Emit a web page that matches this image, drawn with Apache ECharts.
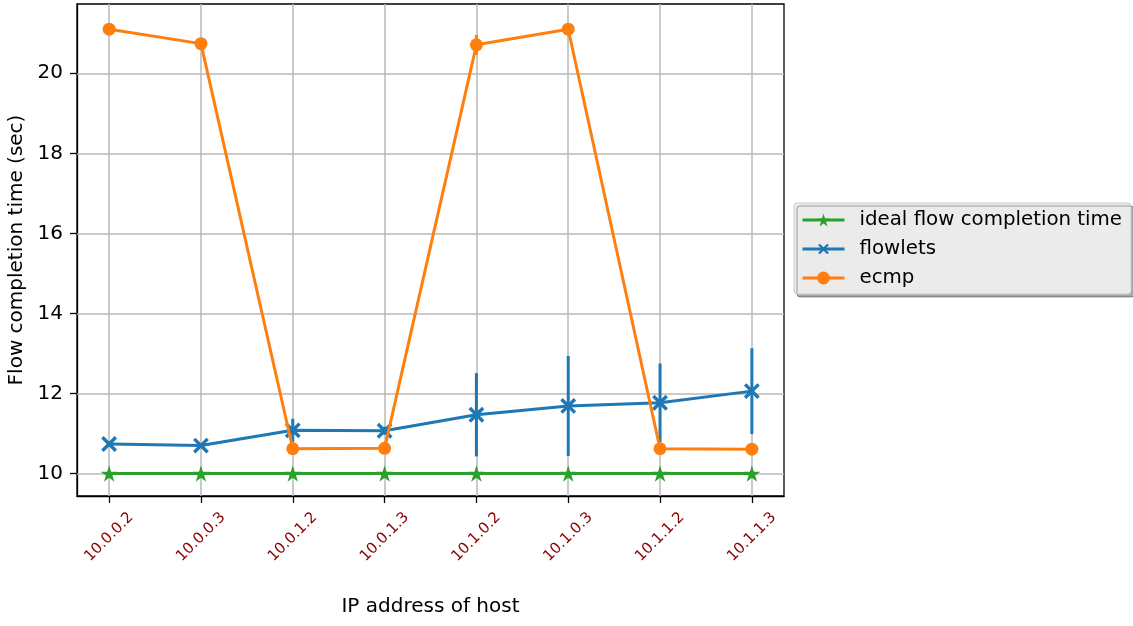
<!DOCTYPE html>
<html>
<head>
<meta charset="utf-8">
<script src="https://cdn.jsdelivr.net/npm/echarts@6/dist/echarts.min.js"></script>
<style>
    html, body { margin: 0; padding: 0; background: #fff; }
    #flow_chart { width: 1133px; height: 626px; }
</style>
</head>
<body>
<div id="flow_chart"></div>
<script>
// host addresses on the x axis
var categories = ['10.0.0.2', '10.0.0.3', '10.0.1.2', '10.0.1.3', '10.1.0.2', '10.1.0.3', '10.1.1.2', '10.1.1.3'];
// flow completion time (sec)
var idealTime = [10, 10, 10, 10, 10, 10, 10, 10];
var flowletsTime = [10.74, 10.70, 11.08, 11.07, 11.47, 11.69, 11.77, 12.06];
var flowletsErr = [0.05, 0.05, 0.29, 0.10, 1.04, 1.25, 0.98, 1.07];
var ecmpTime = [21.10, 20.74, 10.62, 10.63, 20.71, 21.10, 10.62, 10.61];
var ecmpErr = [0.08, 0.08, 0.08, 0.08, 0.25, 0.08, 0.08, 0.08];
var yTicks = [10, 12, 14, 16, 18, 20];
var xTicks = categories.map(function (c, i) { return i; });

var starPath = 'path://M10,0L12.25,6.91L19.51,6.91L13.63,11.18L15.88,18.09L10,13.82L4.12,18.09L6.37,11.18L0.49,6.91L7.75,6.91Z';
var crossPath = 'path://M4.1,0L5.9,0L5.9,4.1L10,4.1L10,5.9L5.9,5.9L5.9,10L4.1,10L4.1,5.9L0,5.9L0,4.1L4.1,4.1Z';

/**
 * 数组转成 [x, y] 点
 */
function toPoints(values) {
    return values.map(function (v, i) {
        return [i, v];
    });
}

/**
 * 误差棒数据 [x, y, err]
 */
function toErrors(values, errs) {
    return values.map(function (v, i) {
        return [i, v, errs[i]];
    });
}

/**
 * 误差棒绘制
 */
function errorRenderer(color) {
    return function (params, api) {
        var x = api.value(0), y = api.value(1), e = api.value(2);
        var p1 = api.coord([x, y - e]);
        var p2 = api.coord([x, y + e]);
        return {
            type: 'line',
            shape: {x1: p1[0], y1: p1[1], x2: p2[0], y2: p2[1]},
            style: {stroke: color, lineWidth: 3}
        };
    };
}

var myChart = echarts.init(document.getElementById('flow_chart'), null, {renderer: 'canvas'});
var option = {
    animation: false,
    backgroundColor: '#fff',
    textStyle: {fontFamily: 'DejaVu Sans'},
    grid: {
        left: 77, right: 349, top: 4, bottom: 130,
        outerBoundsMode: 'none',
        containLabel: false,
        show: true, borderColor: '#000', borderWidth: 1.3, backgroundColor: '#fff'
    },
    legend: {
        orient: 'vertical',
        left: 794,
        top: 203,
        padding: [7, 9, 6, 7],
        itemWidth: 42,
        itemHeight: 16,
        itemGap: 9,
        backgroundColor: '#ebebeb',
        borderColor: '#cccccc',
        borderWidth: 1,
        borderRadius: 3,
        shadowColor: 'rgba(0, 0, 0, 0.35)',
        shadowOffsetX: 3,
        shadowOffsetY: 3,
        lineStyle: {width: 3},
        data: ['ideal flow completion time', 'flowlets', 'ecmp'],
        textStyle: {
            fontSize: 19.8,
            lineHeight: 20,
            color: '#000',
            padding: [0, 0, 0, 10]
        }
    },
    xAxis: {
        type: 'value',
        min: -0.35,
        max: 7.35,
        name: 'IP address of host',
        nameLocation: 'middle',
        nameGap: 101,
        nameTextStyle: {fontSize: 20, color: '#000'},
        axisLine: {show: true, onZero: false, lineStyle: {color: '#000', width: 1.3}},
        axisTick: {show: true, length: 7, customValues: xTicks, lineStyle: {color: '#000', width: 1.3}},
        axisLabel: {
            customValues: xTicks,
            rotate: 45,
            align: 'center',
            verticalAlign: 'middle',
            margin: 41,
            fontSize: 15,
            color: '#8b0000',
            formatter: function (v) {
                return categories[Math.round(v)];
            }
        },
        splitLine: {show: false}
    },
    yAxis: {
        type: 'value',
        min: 9.44,
        max: 21.73,
        name: 'Flow completion time (sec)',
        nameLocation: 'middle',
        nameGap: 47,
        nameTextStyle: {fontSize: 20, color: '#000'},
        axisLine: {show: true, onZero: false, lineStyle: {color: '#000', width: 1.3}},
        axisTick: {show: true, length: 7, customValues: yTicks, lineStyle: {color: '#000', width: 1.3}},
        axisLabel: {customValues: yTicks, margin: 14, fontSize: 20, color: '#000'},
        splitLine: {show: false}
    },
    series: [
        {
            name: 'gridlines',
            type: 'line',
            data: [],
            z: 1,
            silent: true,
            markLine: {
                silent: true,
                z: 1,
                symbol: ['none', 'none'],
                label: {show: false},
                lineStyle: {color: '#b8b8b8', width: 1.5, type: 'solid'},
                data: xTicks.map(function (i) { return {xAxis: i}; })
                    .concat(yTicks.map(function (v) { return {yAxis: v}; }))
            }
        },
        {
            name: 'ideal flow completion time',
            type: 'line',
            z: 2,
            data: toPoints(idealTime),
            color: '#2ca02c',
            lineStyle: {width: 3},
            symbol: starPath,
            symbolSize: 17,
            symbolKeepAspect: true
        },
        {
            name: 'flowlets_err',
            type: 'custom',
            z: 3,
            data: toErrors(flowletsTime, flowletsErr),
            renderItem: errorRenderer('#1f77b4')
        },
        {
            name: 'flowlets',
            type: 'line',
            z: 3,
            data: toPoints(flowletsTime),
            color: '#1f77b4',
            lineStyle: {width: 3},
            symbol: crossPath,
            symbolRotate: 45,
            symbolSize: 19
        },
        {
            name: 'ecmp_err',
            type: 'custom',
            z: 4,
            data: toErrors(ecmpTime, ecmpErr),
            renderItem: errorRenderer('#ff7f0e')
        },
        {
            name: 'ecmp',
            type: 'line',
            z: 4,
            data: toPoints(ecmpTime),
            color: '#ff7f0e',
            lineStyle: {width: 3},
            symbol: 'circle',
            symbolSize: 13
        }
    ]
};
if (option && typeof option === "object") {
    myChart.setOption(option, true);
}
</script>
</body>
</html>
